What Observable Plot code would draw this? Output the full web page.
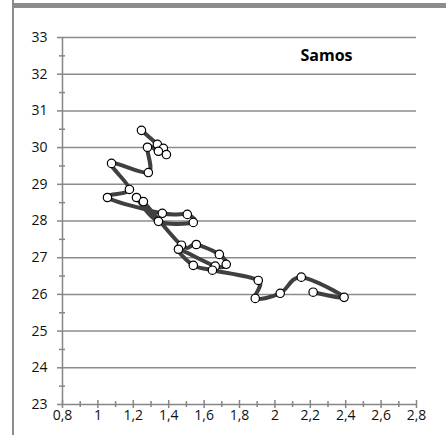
<!DOCTYPE html>
<html>
<head>
<meta charset="utf-8">
<script src="https://cdn.jsdelivr.net/npm/d3@7"></script>
<script src="https://cdn.jsdelivr.net/npm/@observablehq/plot@0.6"></script>
<style>
  html, body { margin: 0; padding: 0; background: #fff; }
  #wrap { position: relative; width: 446px; height: 435px; overflow: hidden; }
  #topbar { position: absolute; left: 13px; top: 3px; width: 433px; height: 5px; background: #8c8c8c; }
  #leftbar { position: absolute; left: 12px; top: 0; width: 2px; height: 435px; background: #8c8c8c; }
  svg { font-family: "Open Sans", sans-serif; }
</style>
</head>
<body>
<div id="wrap">
  <div id="chart"></div>
  <div id="topbar"></div>
  <div id="leftbar"></div>
</div>
<script>
// Series (in drawing order)
const xs = [1.246, 1.336, 1.370, 1.387, 1.342, 1.280, 1.285, 1.077, 1.178, 1.054,
            1.364, 1.505, 1.539, 1.342, 1.218, 1.257, 1.472, 1.556, 1.686, 1.725,
            1.663, 1.455, 1.539, 1.647, 1.906, 1.889, 2.030, 2.149, 2.391, 2.216];
const ys = [30.47, 30.09, 29.98, 29.81, 29.90, 30.01, 29.32, 29.57, 28.86, 28.64,
            28.21, 28.18, 27.96, 27.99, 28.64, 28.53, 27.34, 27.36, 27.09, 26.82,
            26.77, 27.23, 26.79, 26.66, 26.38, 25.89, 26.03, 26.47, 25.92, 26.06];

const title = "Samos";
const yTicks = [23, 24, 25, 26, 27, 28, 29, 30, 31, 32, 33];
const yMinorTicks = [23.5, 24.5, 25.5, 26.5, 27.5, 28.5, 29.5, 30.5, 31.5, 32.5];
const xTicks = [0.8, 1.0, 1.2, 1.4, 1.6, 1.8, 2.0, 2.2, 2.4, 2.6, 2.8];
const xTickLabels = ["0,8", "1", "1,2", "1,4", "1,6", "1,8", "2", "2,2", "2,4", "2,6", "2,8"];
const xMinorTicks = [0.9, 1.1, 1.3, 1.5, 1.7, 1.9, 2.1, 2.3, 2.5, 2.7];

const data = xs.map((x, i) => ({x, y: ys[i]}));
const xMin = xTicks[0], xMax = xTicks[xTicks.length - 1];
const yMin = yTicks[0], yMax = yTicks[yTicks.length - 1];
const axisColor = "#868686";
const xLab = xTicks.map((v, i) => ({v, t: xTickLabels[i]}));

const chart = Plot.plot({
  width: 446,
  height: 435,
  marginLeft: 62,
  marginRight: 30,
  marginTop: 37,
  marginBottom: 31,
  x: {domain: [xMin, xMax], axis: null},
  y: {domain: [yMin, yMax], axis: null},
  marks: [
    // gridlines
    Plot.ruleY(yTicks.slice(1), {y: d => d, x1: xMin, x2: xMax, stroke: "#8c8c8c", strokeWidth: 1.5}),
    // axes lines
    Plot.ruleX([xMin], {x: d => d, y1: yMin, y2: yMax, stroke: axisColor, strokeWidth: 1.5}),
    Plot.ruleY([yMin], {y: d => d, x1: xMin, x2: xMax, stroke: axisColor, strokeWidth: 1.5}),
    // y ticks
    Plot.ruleY(yTicks, {y: d => d, x1: xMin, x2: xMin, insetLeft: -5, insetRight: 0, stroke: axisColor, strokeWidth: 1.5}),
    Plot.ruleY(yMinorTicks, {y: d => d, x1: xMin, x2: xMin, insetLeft: -3, insetRight: -3, stroke: axisColor, strokeWidth: 1.5}),
    // x ticks
    Plot.ruleX(xTicks, {x: d => d, y1: yMin, y2: yMin, insetTop: -4, insetBottom: -4, stroke: axisColor, strokeWidth: 1.5}),
    Plot.ruleX(xMinorTicks, {x: d => d, y1: yMin, y2: yMin, insetTop: -3, insetBottom: -3, stroke: axisColor, strokeWidth: 1.5}),
    // tick labels
    Plot.text(yTicks, {x: xMin, y: d => d, text: d => String(d), dx: -15, textAnchor: "end", lineAnchor: "middle", fontSize: 14, fill: "#111"}),
    Plot.text(xLab, {x: "v", y: yMin, text: "t", dy: 11, lineAnchor: "middle", fontSize: 14, fill: "#111"}),
    // series
    Plot.line(data, {x: "x", y: "y", curve: "cardinal", stroke: "#404040", strokeWidth: 4, strokeLinejoin: "round"}),
    Plot.dot(data, {x: "x", y: "y", r: 4.2, fill: "white", stroke: "black", strokeWidth: 1.2}),
    // title
    Plot.text([title], {frameAnchor: "top-right", text: d => d, textAnchor: "end", lineAnchor: "middle", dx: -64, dy: 18, fontSize: 16, fontWeight: "bold", fill: "#000"})
  ]
});
document.getElementById("chart").appendChild(chart);
</script>
</body>
</html>
